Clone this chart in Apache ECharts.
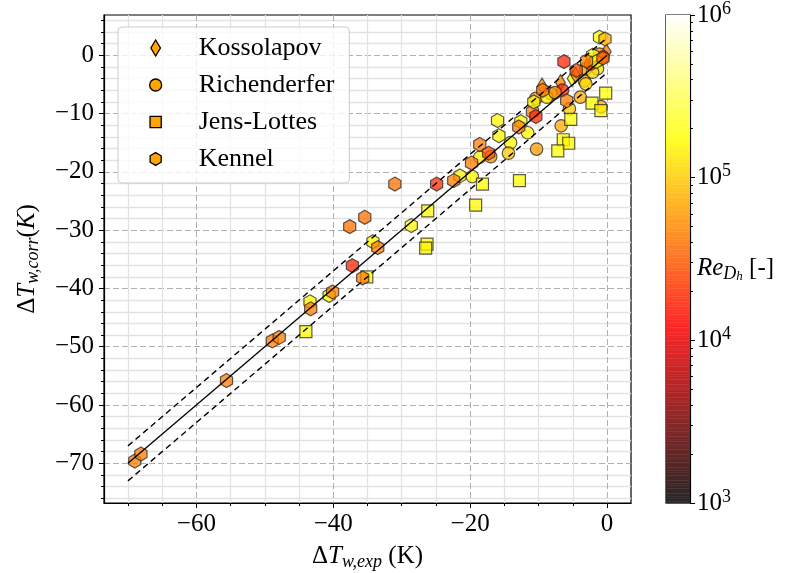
<!DOCTYPE html>
<html>
<head>
<meta charset="utf-8">
<script src="https://cdn.jsdelivr.net/npm/echarts@6/dist/echarts.min.js"></script>
<style>
  html, body { margin: 0; padding: 0; background: #ffffff; }
  #chart { width: 786px; height: 573px; }
</style>
</head>
<body>
<div id="chart"></div>
<script>
// Wall superheat change: experiment (x) vs correlation (y), coloured by Reynolds number

const kossolapovExp  = [-9.5, -6.8, -5.1, -4.6, -0.1, -2.3];
const kossolapovCorr = [-5.3, -4.7, -4.0, -3.4, 0.6, -1.4];
const kossolapovRe   = [56000, 45000, 160000, 56000, 40000, 25000];

const richenderferExp  = [-11.6, -14.1, -14.4, -10.3, -17.0, -18.6, -19.7, -6.7, -5.5, -3.9, -0.9, -3.3,
                          -3.1, -10.4, -8.2, -8.8, -3.1, -1.4, -2.1, -1.1, -2.4, -0.6, -6.5, -7.6];
const richenderferCorr = [-13.3, -15.0, -16.8, -16.1, -17.4, -17.5, -20.8, -12.1, -9.2, -7.2, -8.8, -4.4,
                          -4.9, -7.4, -6.6, -7.2, -2.3, -2.3, -2.9, 0.2, -1.5, -0.3, -6.0, -6.4];
const richenderferRe   = [160000, 160000, 100000, 63000, 56000, 140000, 160000, 71000, 100000, 71000, 71000, 63000,
                          126000, 63000, 71000, 140000, 56000, 126000, 110000, 50000, 20000, 40000, 18000, 56000];

const jensLottesExp  = [-44.0, -35.1, -26.2, -26.3, -26.5, -18.2, -12.8, -19.2, -5.3, -6.4, -5.6, -7.2, -2.2, -0.2, -0.9];
const jensLottesCorr = [-47.4, -38.0, -26.7, -32.4, -33.1, -22.1, -21.5, -25.7, -11.0, -14.5, -15.1, -16.4, -8.2, -6.5, -9.5];
const jensLottesRe   = [170000, 170000, 160000, 160000, 150000, 170000, 170000, 160000, 170000, 170000, 160000, 170000, 170000, 170000, 160000];

const kennelExp  = [-69.0, -68.1, -55.6, -48.9, -47.9, -43.4, -43.3, -40.6, -40.1, -37.2, -35.7, -34.2, -33.5,
                    -37.6, -35.4, -31.0, -24.9, -28.6, -16.0, -10.9, -10.4, -12.6, -12.9, -15.8, -18.6, -17.3,
                    -19.8, -21.5, -22.4, -6.3, -1.1, -0.3, -5.9, -9.4, -10.7, -2.1, -1.6, -3.0, -0.6, -4.5];
const kennelCorr = [-69.6, -68.4, -55.8, -49.0, -48.4, -42.3, -43.5, -41.2, -40.6, -36.1, -38.2, -32.0, -33.0,
                    -29.4, -27.8, -22.1, -22.1, -29.2, -11.2, -9.7, -10.5, -11.4, -12.3, -13.8, -15.3, -16.8,
                    -18.5, -20.7, -21.5, -1.1, 3.1, 2.8, -7.8, -6.0, -8.0, 0.0, -1.1, -1.0, -0.5, -2.6];
const kennelRe   = [45000, 45000, 45000, 45000, 45000, 160000, 45000, 160000, 45000, 18000, 45000, 160000, 45000,
                    40000, 40000, 40000, 20000, 160000, 160000, 45000, 18000, 160000, 45000, 160000, 45000, 28000,
                    45000, 160000, 45000, 18000, 180000, 80000, 45000, 40000, 160000, 160000, 160000, 50000, 35000, 28000];

// Parity line and +/- 3 K band
const parityX = [-70, 0];
const bandOffset = 3;

// Axis ticks
const xMajorTicks = [-60, -40, -20, 0];
const xMinorTicks = [-70, -65, -55, -50, -45, -35, -30, -25, -15, -10, -5];
const yMajorTicks = [-70, -60, -50, -40, -30, -20, -10, 0];
const yMinorTicks = [-76, -74, -72, -68, -66, -64, -62, -58, -56, -54, -52, -48, -46, -44, -42, -38, -36, -34, -32,
                     -28, -26, -24, -22, -18, -16, -14, -12, -8, -6, -4, -2, 2, 4, 6];
const reMajorExp = [3, 4, 5, 6];
const reMinorMantissa = [2, 3, 4, 5, 6, 7, 8, 9];

const FONT = 'Liberation Serif';

// matplotlib "hot" colormap
function hot(f) {
  f = Math.max(0, Math.min(1, f));
  const r = Math.min(1, f / 0.365079);
  const g = Math.max(0, Math.min(1, (f - 0.365079) / 0.380953));
  const b = Math.max(0, Math.min(1, (f - 0.746032) / 0.253968));
  return [r, g, b];
}
function reFrac(re) { return (Math.log10(re) - 3) / 3; }
function rgbOf(c, alpha) {
  // blend on white
  const a = alpha == null ? 1 : alpha;
  const m = v => Math.round(255 * (v * a + (1 - a)));
  return 'rgb(' + m(c[0]) + ',' + m(c[1]) + ',' + m(c[2]) + ')';
}

const HEX = 'path://M0,-1 L0.866,-0.5 L0.866,0.5 L0,1 L-0.866,0.5 L-0.866,-0.5 Z';
const THIN_DIAMOND = 'path://M0,-1 L0.6,0 L0,1 L-0.6,0 Z';

// Legend icons padded into a common 16px box
const ICON_DIAMOND = 'path://M0,-8 L4.8,0 L0,8 L-4.8,0 Z';
const ICON_CIRCLE = 'path://M0,-8 M0,8 M-6,0 A6,6 0 1 1 6,0 A6,6 0 1 1 -6,0 Z';
const ICON_SQUARE = 'path://M0,-8 M0,8 M-5.6,-5.6 L5.6,-5.6 L5.6,5.6 L-5.6,5.6 Z';
const ICON_HEX = 'path://M0,-8 M0,8 M0,-6.4 L5.54,-3.2 L5.54,3.2 L0,6.4 L-5.54,3.2 L-5.54,-3.2 Z';

function zip(xs, ys, res) { return xs.map((x, i) => [x, ys[i], res[i]]); }

const markerStyle = {
  color: p => rgbOf(hot(reFrac(p.value[2]))),
  borderColor: '#262626',
  borderWidth: 1.2,
  opacity: 0.75
};

function scatter(name, symbol, size, xs, ys, res) {
  return {
    name: name, type: 'scatter', xAxisIndex: 0, yAxisIndex: 0,
    symbol: symbol, symbolSize: size, symbolKeepAspect: true,
    data: zip(xs, ys, res),
    itemStyle: markerStyle,
    emphasis: { disabled: true },
    z: 3
  };
}

function lineSeries(offset, dashed) {
  return {
    type: 'line', xAxisIndex: 0, yAxisIndex: 0,
    data: parityX.map(x => [x, x + offset]),
    symbol: 'none', silent: true,
    lineStyle: { color: '#000', width: dashed ? 1.4 : 1.3, type: dashed ? [6, 4] : 'solid' },
    z: 4
  };
}

// Colour bar cells (log10 Re from 3 to 6)
const cbCells = [];
for (let i = 0; i < 300; i++) cbCells.push([3 + i * 0.01, 3 + (i + 1) * 0.01]);
const reMinorTicks = [];
reMajorExp.slice(0, -1).forEach(e => reMinorMantissa.forEach(m => reMinorTicks.push(e + Math.log10(m))));

const minus = v => (v < 0 ? '\u2212' + (-v) : String(v));

const rich = {
  n: { fontFamily: FONT, fontSize: 25, lineHeight: 30, verticalAlign: 'middle', color: '#000' },
  i: { fontFamily: FONT, fontSize: 25, fontStyle: 'italic', lineHeight: 30, verticalAlign: 'middle', color: '#000' },
  s: { fontFamily: FONT, fontSize: 18, fontStyle: 'italic', lineHeight: 18, verticalAlign: 'bottom', color: '#000' },
  ss: { fontFamily: FONT, fontSize: 13, fontStyle: 'italic', lineHeight: 12, verticalAlign: 'bottom', color: '#000' },
  sup: { fontFamily: FONT, fontSize: 18, lineHeight: 18, verticalAlign: 'top', color: '#000' }
};

const chart = echarts.init(document.getElementById('chart'), null, { renderer: 'canvas' });

const option = {
  animation: false,
  backgroundColor: '#ffffff',
  grid: [
    { left: 104, top: 15, width: 527, height: 488, show: true, borderColor: '#000', borderWidth: 1.2,
      backgroundColor: 'transparent', containLabel: false, outerBoundsMode: 'none' },
    { left: 666, top: 15, width: 24, height: 488, show: true, borderColor: '#000', borderWidth: 1.2,
      backgroundColor: 'transparent', containLabel: false, outerBoundsMode: 'none' }
  ],
  xAxis: [
    {
      type: 'value', gridIndex: 0, position: 'bottom', min: -73.5, max: 3.5,
      axisLine: { show: true, onZero: false, lineStyle: { color: '#000', width: 1.2 } },
      axisTick: { show: true, customValues: xMajorTicks, length: 5, lineStyle: { color: '#000', width: 1 } },
      axisLabel: { show: true, customValues: xMajorTicks, margin: 9, formatter: minus,
                   fontFamily: FONT, fontSize: 25, color: '#000' },
      splitLine: { show: true, lineStyle: { color: '#b0b0b0', width: 1, type: [6, 3] } },
      name: '{n|\u0394}{i|T}{s|w,exp}{n| (K)}', nameLocation: 'middle', nameGap: 38,
      nameTextStyle: { rich: rich }
    },
    {
      type: 'value', gridIndex: 0, position: 'bottom', min: -73.5, max: 3.5,
      axisLine: { show: false, onZero: false },
      axisTick: { show: true, customValues: xMinorTicks, length: 3, lineStyle: { color: '#000', width: 1 } },
      axisLabel: { show: false },
      splitLine: { show: true, lineStyle: { color: '#e2e2e2', width: 1.3 } }
    },
    { type: 'value', gridIndex: 1, min: 0, max: 1, show: false }
  ],
  yAxis: [
    {
      type: 'value', gridIndex: 0, position: 'left', min: -76.8, max: 6.9,
      axisLine: { show: true, onZero: false, lineStyle: { color: '#000', width: 1.2 } },
      axisTick: { show: true, customValues: yMajorTicks, length: 5, lineStyle: { color: '#000', width: 1 } },
      axisLabel: { show: true, customValues: yMajorTicks, margin: 10, formatter: minus,
                   fontFamily: FONT, fontSize: 25, color: '#000' },
      splitLine: { show: true, lineStyle: { color: '#b0b0b0', width: 1, type: [6, 3] } },
      name: '{n|\u0394}{i|T}{s|w,corr}{n|(}{i|K}{n|)}', nameLocation: 'middle', nameGap: 62, nameRotate: 90,
      nameTextStyle: { rich: rich }
    },
    {
      type: 'value', gridIndex: 0, position: 'left', min: -76.8, max: 6.9,
      axisLine: { show: false, onZero: false },
      axisTick: { show: true, customValues: yMinorTicks, length: 3, lineStyle: { color: '#000', width: 1 } },
      axisLabel: { show: false },
      splitLine: { show: true, lineStyle: { color: '#e2e2e2', width: 1.3 } }
    },
    {
      type: 'value', gridIndex: 1, position: 'right', min: 3, max: 6,
      axisLine: { show: true, onZero: false, lineStyle: { color: '#000', width: 1.2 } },
      axisTick: { show: true, customValues: reMajorExp, length: 5, lineStyle: { color: '#000', width: 1 } },
      axisLabel: { show: true, customValues: reMajorExp, margin: 7,
                   formatter: v => '{n|10}{sup|' + v + '}', rich: rich },
      splitLine: { show: false },
      name: '{i|Re}{s|D}{ss|h}{n| [-]}', nameLocation: 'middle', nameGap: 7, nameRotate: 0,
      nameMoveOverlap: false,
      nameTextStyle: { rich: rich, align: 'left', padding: [18, 0, 0, 0] }
    },
    {
      type: 'value', gridIndex: 1, position: 'right', min: 3, max: 6,
      axisLine: { show: false, onZero: false },
      axisTick: { show: true, customValues: reMinorTicks, length: 3, lineStyle: { color: '#000', width: 1 } },
      axisLabel: { show: false },
      splitLine: { show: false }
    }
  ],
  legend: {
    orient: 'vertical', left: 118, top: 27,
    padding: [8, 15, 11, 31], itemGap: 11, itemWidth: 56, itemHeight: 16,
    backgroundColor: 'rgba(255,255,255,0.8)', borderColor: '#cccccc', borderWidth: 1, borderRadius: 4,
    selectedMode: false,
    textStyle: { fontFamily: FONT, fontSize: 26, color: '#000', lineHeight: 24, padding: [0, 0, 0, 10] },
    data: [
      { name: 'Kossolapov', icon: ICON_DIAMOND, itemStyle: { color: '#ffa500', borderColor: '#000', borderWidth: 1.3, opacity: 1 } },
      { name: 'Richenderfer', icon: ICON_CIRCLE, itemStyle: { color: '#ffa500', borderColor: '#000', borderWidth: 1.3, opacity: 1 } },
      { name: 'Jens-Lottes', icon: ICON_SQUARE, itemStyle: { color: '#ffa500', borderColor: '#000', borderWidth: 1.3, opacity: 1 } },
      { name: 'Kennel', icon: ICON_HEX, itemStyle: { color: '#ffa500', borderColor: '#000', borderWidth: 1.3, opacity: 1 } }
    ],
    z: 10
  },
  series: [
    scatter('Kossolapov', THIN_DIAMOND, 16, kossolapovExp, kossolapovCorr, kossolapovRe),
    scatter('Richenderfer', 'circle', 12.5, richenderferExp, richenderferCorr, richenderferRe),
    scatter('Jens-Lottes', 'rect', 12, jensLottesExp, jensLottesCorr, jensLottesRe),
    scatter('Kennel', HEX, 14, kennelExp, kennelCorr, kennelRe),
    lineSeries(0, false),
    lineSeries(bandOffset, true),
    lineSeries(-bandOffset, true),
    {
      type: 'custom', xAxisIndex: 2, yAxisIndex: 2, silent: true,
      data: cbCells,
      renderItem: function (params, api) {
        const lo = api.value(0), hi = api.value(1);
        const p0 = api.coord([0, hi]);
        const p1 = api.coord([1, lo]);
        return {
          type: 'rect',
          shape: { x: p0[0], y: p0[1], width: p1[0] - p0[0], height: p1[1] - p0[1] + 0.4 },
          style: { fill: rgbOf(hot(((lo + hi) / 2 - 3) / 3), 0.85) }
        };
      },
      z: 1
    }
  ]
};

chart.setOption(option);
</script>
</body>
</html>
